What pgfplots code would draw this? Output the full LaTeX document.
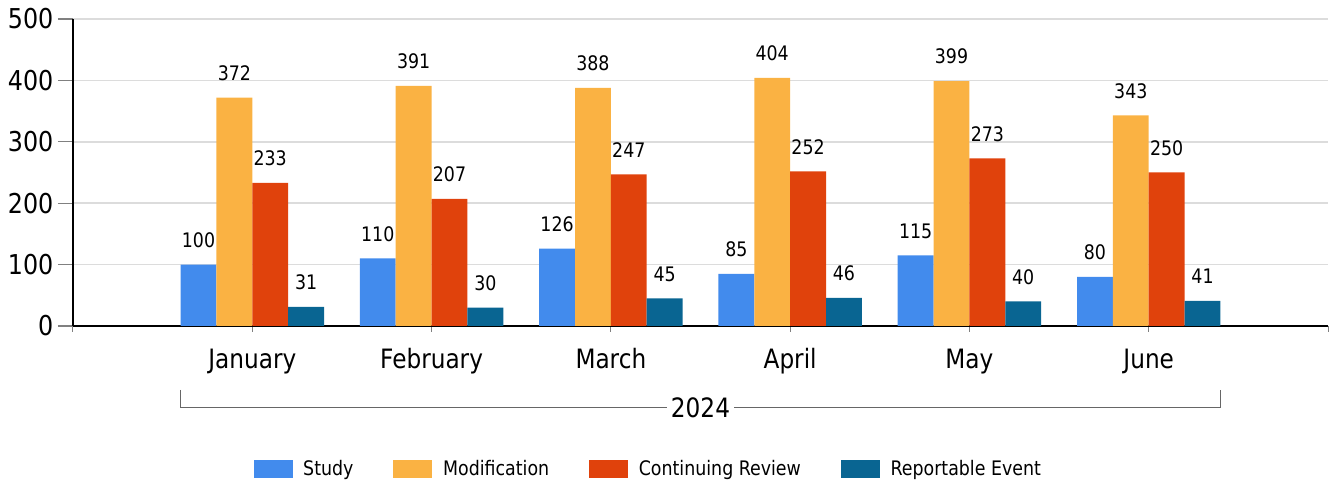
\documentclass[border=0pt]{standalone}
\usepackage{fontspec}
\setmainfont{DejaVu Sans}[FakeStretch=0.87]
\usepackage{pgfplots}
\pgfplotsset{compat=1.18}
\definecolor{cStudy}{HTML}{428BED}
\definecolor{cMod}{HTML}{FAB243}
\definecolor{cCR}{HTML}{E0420C}
\definecolor{cRE}{HTML}{096592}
\definecolor{gridc}{HTML}{DCDCDC}
\begin{document}
\begin{tikzpicture}
\path[use as bounding box] (-54.75pt,-118.5pt) rectangle (945pt,244.5pt);
\begin{axis}[
  at={(0pt,0pt)}, anchor=south west,
  scale only axis, width=941.25pt, height=230.25pt,
  ybar=0pt, bar width=0.2,
  xmin=-1, xmax=6, ymin=0, ymax=500,
  xtick={-1,0,...,6},
  xticklabels={,January,February,March,April,May,June,},
  ytick={0,100,...,500},
  axis x line=bottom, axis y line=left,
  axis line style={-, black, line width=1.6pt},
  x axis line style={line width=1.6pt},
  y axis line style={line width=1.6pt},
  tick align=outside,
  major tick length=11.25pt,
  xtick style={gray, line width=0.75pt, /pgfplots/major tick length=4.5pt},
  ytick style={gray, line width=1pt},
  ymajorgrids, grid style={gridc, line width=1.3pt},
  /pgf/number format/assume math mode=true,
  yticklabel style={font=\fontsize{20.5}{24}\selectfont},
  xticklabel style={font=\fontsize{20}{24}\selectfont, yshift=-2.25pt},
  nodes near coords,
  every node near coord/.append style={font=\fontsize{15}{18}\selectfont, black, inner sep=0pt, yshift=12.5pt},
  clip=false,
  legend image code/.code={\fill[#1] (0pt,-6.75pt) rectangle (29.25pt,6.75pt);},
  legend columns=4,
  legend style={at={(0.4586,-0.466)}, anchor=center, draw=none, font=\fontsize{15}{18}\selectfont,
    /tikz/every odd column/.append style={column sep=6pt},
    /tikz/every even column/.append style={column sep=28pt}},
]
\addplot[fill=cStudy, draw=none] coordinates {(0,100) (1,110) (2,126) (3,85) (4,115) (5,80)};
\addplot[fill=cMod, draw=none] coordinates {(0,372) (1,391) (2,388) (3,404) (4,399) (5,343)};
\addplot[fill=cCR, draw=none] coordinates {(0,233) (1,207) (2,247) (3,252) (4,273) (5,250)};
\addplot[fill=cRE, draw=none] coordinates {(0,31) (1,30) (2,45) (3,46) (4,40) (5,41)};
\legend{Study, Modification, Continuing Review, Reportable Event}
\draw[gray!80!black, line width=0.75pt] ([yshift=-48pt]axis cs:-0.4,0) -- ([yshift=-61.5pt]axis cs:-0.4,0) -- ([yshift=-61.5pt]axis cs:5.4,0) -- ([yshift=-48pt]axis cs:5.4,0);
\node[fill=white, inner xsep=3pt, font=\fontsize{20}{24}\selectfont] at ([yshift=-61.5pt]axis cs:2.5,0) {2024};
\end{axis}
\end{tikzpicture}
\end{document}
